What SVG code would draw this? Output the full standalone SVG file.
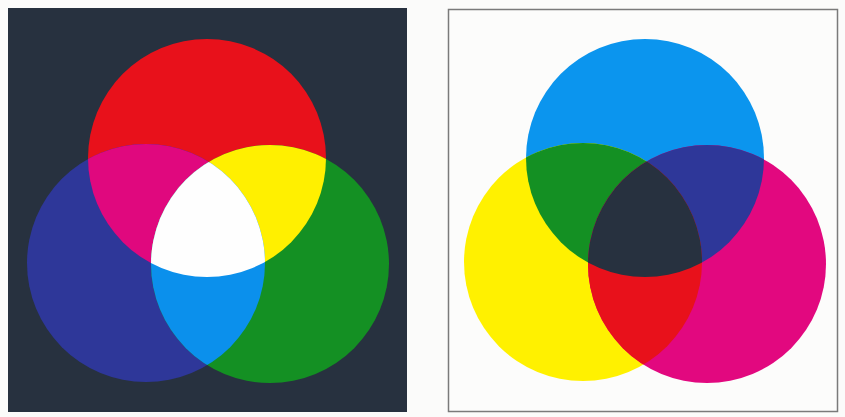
<svg xmlns="http://www.w3.org/2000/svg" width="845" height="417" viewBox="0 0 845 417">
  <defs>
    <clipPath id="cR"><circle cx="207" cy="158" r="119"/></clipPath>
    <clipPath id="cB"><circle cx="146" cy="263" r="119"/></clipPath>
    <clipPath id="cC"><circle cx="645" cy="158" r="119"/></clipPath>
    <clipPath id="cY"><circle cx="583" cy="262" r="119"/></clipPath>
  </defs>
  <rect x="0" y="0" width="845" height="417" fill="#fbfbfa"/>
  <g id="additive">
    <rect x="8" y="8" width="399" height="404" fill="#27313f"/>
    <circle cx="207" cy="158" r="119" fill="#e8111b"/>
    <circle cx="146" cy="263" r="119" fill="#2e3799"/>
    <circle cx="270" cy="264" r="119" fill="#149023"/>
    <circle cx="146" cy="263" r="119" fill="#e0087e" clip-path="url(#cR)"/>
    <circle cx="270" cy="264" r="119" fill="#fff000" clip-path="url(#cR)"/>
    <circle cx="270" cy="264" r="119" fill="#0b90ec" clip-path="url(#cB)"/>
    <g clip-path="url(#cR)">
      <circle cx="270" cy="264" r="119" fill="#fefefe" clip-path="url(#cB)"/>
    </g>
  </g>
  <g id="subtractive">
    <rect x="448.5" y="9.5" width="389" height="402" fill="#fcfcfb" stroke="#7a7a7a" stroke-width="1.5"/>
    <circle cx="645" cy="158" r="119" fill="#0b95ee"/>
    <circle cx="583" cy="262" r="119" fill="#fff100"/>
    <circle cx="707" cy="264" r="119" fill="#e2087f"/>
    <circle cx="583" cy="262" r="119" fill="#149023" clip-path="url(#cC)"/>
    <circle cx="707" cy="264" r="119" fill="#2e3799" clip-path="url(#cC)"/>
    <circle cx="707" cy="264" r="119" fill="#e8111b" clip-path="url(#cY)"/>
    <g clip-path="url(#cC)">
      <circle cx="707" cy="264" r="119" fill="#27313f" clip-path="url(#cY)"/>
    </g>
  </g>
</svg>
